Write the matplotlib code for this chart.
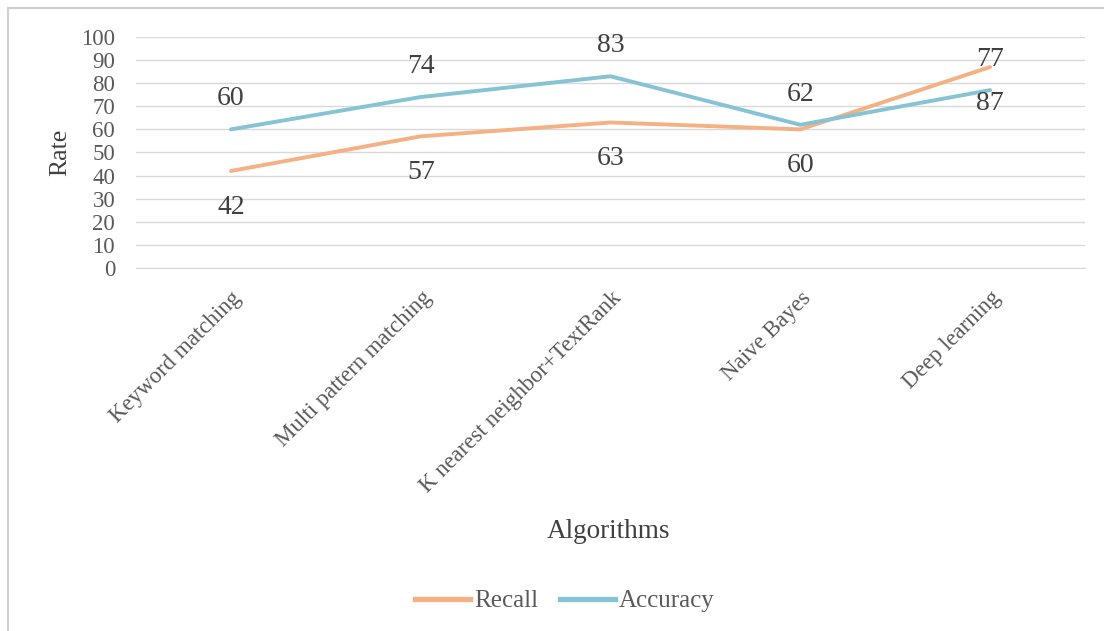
import matplotlib
matplotlib.use("Agg")
import matplotlib.pyplot as plt
from matplotlib.lines import Line2D

categories = ["Keyword matching", "Multi pattern matching", "K nearest neighbor+TextRank",
              "Naive Bayes", "Deep learning"]
recall = [42, 57, 63, 60, 87]
accuracy = [60, 74, 83, 62, 77]
y_ticks = [0, 10, 20, 30, 40, 50, 60, 70, 80, 90, 100]

plt.rcParams["font.family"] = ["Liberation Serif", "DejaVu Serif"]
text_color = "#595959"
label_color = "#404040"
recall_color = "#F4B183"
accuracy_color = "#85C3D5"

fig = plt.figure(figsize=(11.04, 6.31), dpi=100)
ax = fig.add_axes([136 / 1104, 1 - 268 / 631, (1085 - 136) / 1104, (268 - 37) / 631])

x = list(range(len(categories)))
ax.plot(x, recall, color=recall_color, lw=2.8, solid_capstyle="round", zorder=3)
ax.plot(x, accuracy, color=accuracy_color, lw=2.8, solid_capstyle="round", zorder=3)

for xi, r, a in zip(x, recall, accuracy):
    ax.annotate(str(r), (xi, r), xytext=(0, -26), textcoords="offset points",
                ha="center", va="center", fontsize=20, color=label_color)
    ax.annotate(str(a), (xi, a), xytext=(0, 22), textcoords="offset points",
                ha="center", va="center", fontsize=20, color=label_color)

ax.set_xlim(-0.5, len(categories) - 0.5)
ax.set_ylim(0, 100)
ax.set_yticks(y_ticks)
ax.set_yticklabels([str(t) for t in y_ticks], fontsize=16.5, color=text_color)
ax.grid(axis="y", color="#D9D9D9", lw=1)
ax.set_axisbelow(True)
for s in ["top", "right", "left"]:
    ax.spines[s].set_visible(False)
ax.spines["bottom"].set_color("#D9D9D9")
ax.tick_params(axis="both", length=0)
ax.tick_params(axis="y", pad=15)

ax.set_xticks(x)
ax.set_xticklabels(categories, fontsize=16.5, color=text_color, rotation=45,
                   ha="right", va="top", rotation_mode="anchor")
ax.tick_params(axis="x", pad=14)

fig.text(60 / 1104, 1 - 152 / 631, "Rate", rotation=90, ha="center", va="center",
         fontsize=18.5, color=label_color)
fig.text(608 / 1104, 1 - 532 / 631, "Algorithms", ha="center", va="center",
         fontsize=19.5, color=label_color)

handles = [Line2D([], [], color=recall_color, lw=3.8),
           Line2D([], [], color=accuracy_color, lw=3.8)]
fig.legend(handles, ["Recall", "Accuracy"], loc="center", bbox_to_anchor=(565 / 1104, 1 - 601 / 631),
           ncol=2, frameon=False, fontsize=18, handlelength=2.2, handletextpad=0.15,
           columnspacing=0.9, labelcolor=text_color)

# chart area frame
fig.add_artist(Line2D([8 / 1104, 8 / 1104], [0, 1 - 8 / 631], color="#D0D0D0", lw=1.5,
                      transform=fig.transFigure))
fig.add_artist(Line2D([8 / 1104, 1], [1 - 8 / 631, 1 - 8 / 631], color="#D0D0D0", lw=1.5,
                      transform=fig.transFigure))

fig.savefig("out.png", dpi=100, facecolor="white")
